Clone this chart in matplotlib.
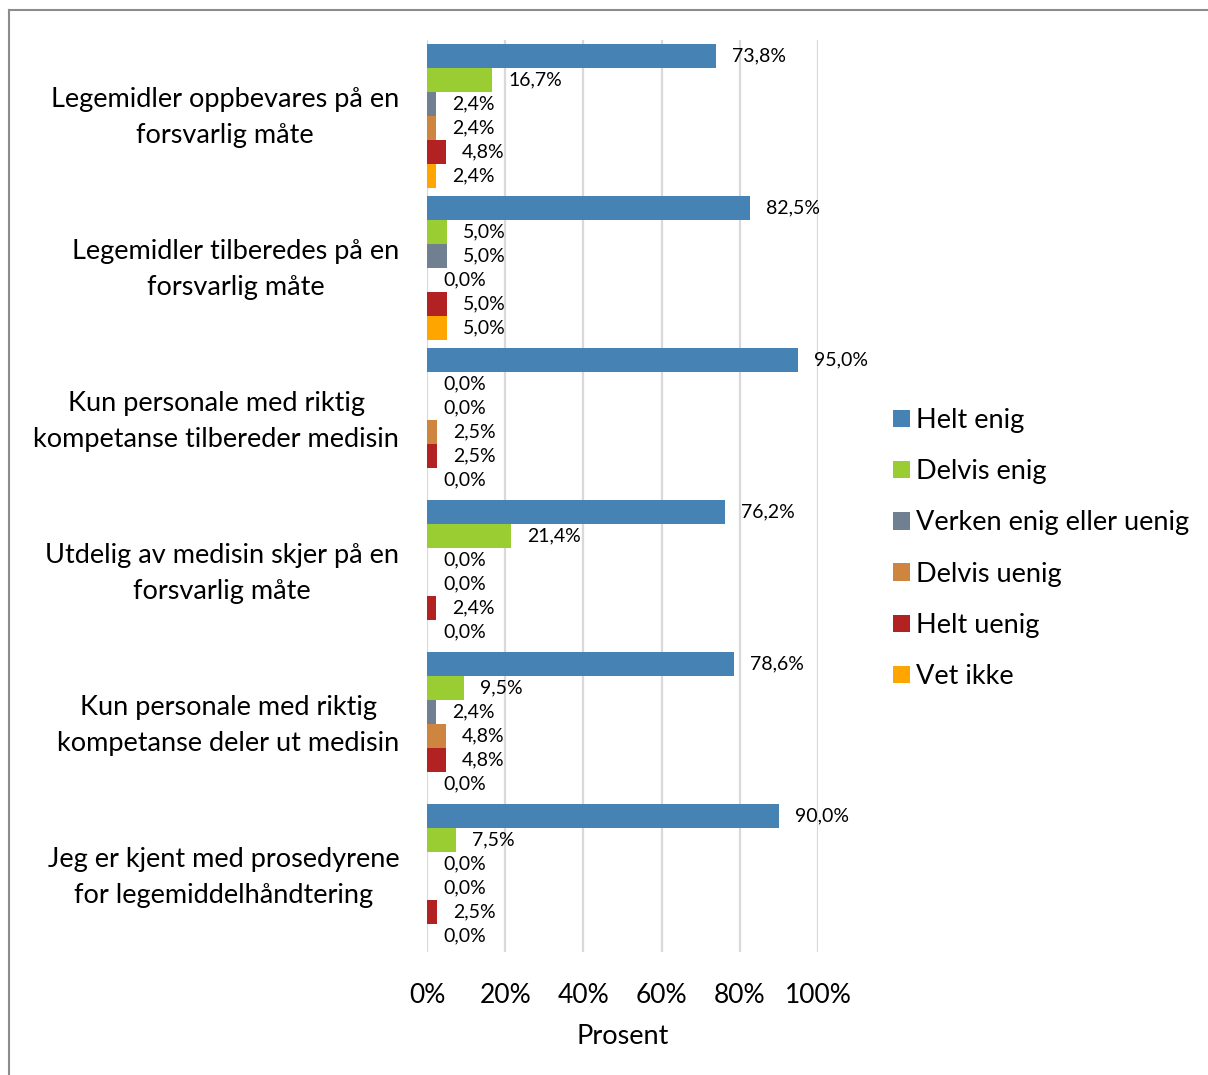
import matplotlib
matplotlib.use("Agg")
import matplotlib.pyplot as plt
import matplotlib.transforms as mtransforms
import numpy as np
from matplotlib.lines import Line2D
from matplotlib.patches import Patch

plt.rcParams['font.family'] = ['Lato', 'DejaVu Sans']

categories = [
    "Legemidler oppbevares på en\nforsvarlig måte",
    "Legemidler tilberedes på en\nforsvarlig måte",
    "Kun personale med riktig\nkompetanse tilbereder medisin",
    "Utdelig av medisin skjer på en\nforsvarlig måte",
    "Kun personale med riktig\nkompetanse deler ut medisin",
    "Jeg er kjent med prosedyrene\nfor legemiddelhåndtering",
]
series_names = ["Helt enig", "Delvis enig", "Verken enig eller uenig",
                "Delvis uenig", "Helt uenig", "Vet ikke"]
helt_enig = [73.8, 82.5, 95.0, 76.2, 78.6, 90.0]
delvis_enig = [16.7, 5.0, 0.0, 21.4, 9.5, 7.5]
verken = [2.4, 5.0, 0.0, 0.0, 2.4, 0.0]
delvis_uenig = [2.4, 0.0, 2.5, 0.0, 4.8, 0.0]
helt_uenig = [4.8, 5.0, 2.5, 2.4, 4.8, 2.5]
vet_ikke = [2.4, 5.0, 0.0, 0.0, 0.0, 0.0]
series = [helt_enig, delvis_enig, verken, delvis_uenig, helt_uenig, vet_ikke]
colors = ["#4682B4", "#9ACD32", "#708090", "#CD853F", "#B22222", "#FFA500"]
xticks = [0, 20, 40, 60, 80, 100]

W, H = 1208, 1075
fig = plt.figure(figsize=(W / 100, H / 100), dpi=100)
ax = fig.add_axes([427 / W, 1 - 952 / H, (818 - 427) / W, (952 - 40) / H])

n = len(series)
h = 0.157
y = np.arange(len(categories))
for j, (vals, c) in enumerate(zip(series, colors)):
    pos = y + (j - (n - 1) / 2) * h
    ax.barh(pos, vals, height=h, color=c, label=series_names[j], zorder=3)
    for p, v in zip(pos, vals):
        ax.annotate(f"{v:.1f}%".replace(".", ","), (v, p), xytext=(11.5, 0),
                    textcoords="offset points", va="center", ha="left",
                    fontsize=14, color="#000000", zorder=4)

ax.set_xlim(0, 100)
ax.set_ylim(len(categories) - 0.5, -0.5)
ax.set_xticks(xticks)
ax.set_xticklabels([f"{t}%" for t in xticks], fontsize=19)
ax.tick_params(axis="x", length=0, pad=22)
ax.set_yticks(y)
ax.set_yticklabels(categories, fontsize=19.5, multialignment="center",
                   linespacing=1.5)
ax.tick_params(axis="y", length=0, pad=20)
shift = mtransforms.ScaledTranslation(0, 6 / 100, fig.dpi_scale_trans)
for lbl in ax.get_yticklabels():
    lbl.set_transform(lbl.get_transform() + shift)
ax.set_xlabel("Prosent", fontsize=19.5, labelpad=12)
for s in ax.spines.values():
    s.set_visible(False)
ax.grid(axis="x", color="#D9D9D9", linewidth=1.6, zorder=0)
ax.set_axisbelow(True)

handles = [Patch(facecolor=c, edgecolor="none") for c in colors]
fig.legend(handles, series_names, loc="upper left",
           bbox_to_anchor=(882 / W, 1 - 397 / H), frameon=False,
           fontsize=19.5, handlelength=0.62, handleheight=0.62,
           handletextpad=0.25, labelspacing=0.97, borderaxespad=0)

# chart border (top and left visible)
fig.add_artist(Line2D([8.5 / W, 8.5 / W], [0, 1 - 9.5 / H],
                      transform=fig.transFigure, color="#8C8C8C", linewidth=1.5))
fig.add_artist(Line2D([8.5 / W, 1], [1 - 9.5 / H, 1 - 9.5 / H],
                      transform=fig.transFigure, color="#8C8C8C", linewidth=1.5))

fig.savefig("out.png", dpi=100, facecolor="white")
